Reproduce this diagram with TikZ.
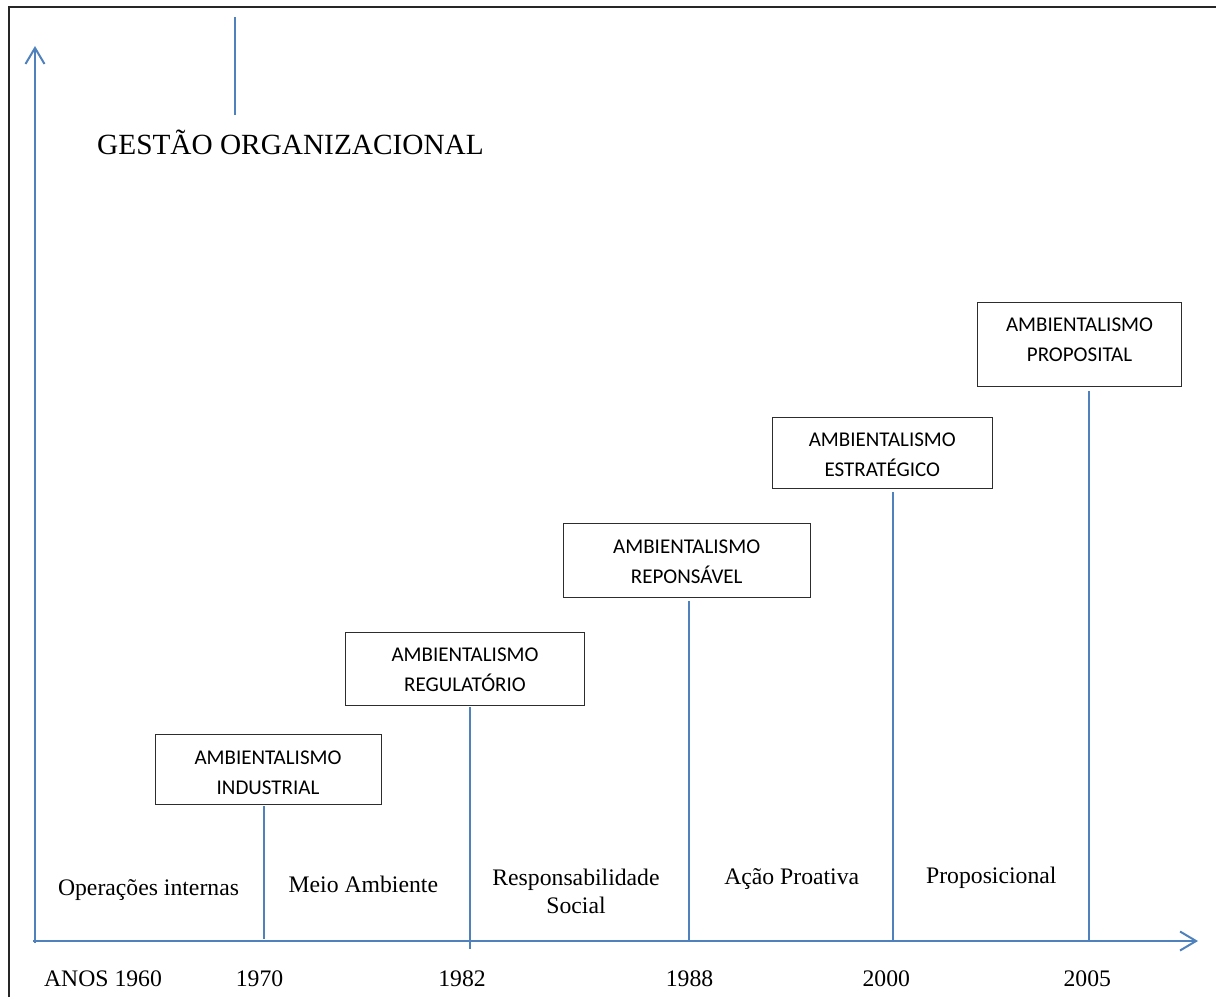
\documentclass[tikz,border=0pt]{standalone}
\usepackage{fontspec}
\setmainfont{Liberation Serif}
\newfontfamily\carlito{Carlito}
\usetikzlibrary{arrows.meta}
\definecolor{axisblue}{RGB}{79,129,189}
\definecolor{boxgray}{RGB}{45,45,45}
\begin{document}
\begin{tikzpicture}[x=1pt,y=-1pt,
  axisline/.style={draw=axisblue, line width=2pt},
  axisarrow/.style={axisline, -{Straight Barb[length=16pt,width=19pt,line width=2pt]}},
  phaseline/.style={draw=axisblue, line width=2pt},
  phasebox/.style={draw=boxgray, line width=0.9pt, inner sep=0pt},
  phasetext/.style={font=\carlito\fontsize{21}{30}\selectfont, align=center, inner sep=0pt},
  eratext/.style={font=\fontsize{23.7}{27.7}\selectfont, align=center, inner sep=0pt},
  yeartext/.style={font=\fontsize{23.7}{28}\selectfont, inner sep=0pt, anchor=base},
]
\useasboundingbox (0,0) rectangle (1216,997);

% outer frame
\draw[line width=1.5pt, black!85] (9,997) -- (9,7) -- (1216,7);

% title and its marker
\coordinate (m1) at (235,17);
\coordinate (m2) at (235,115);
\draw[axisline, line width=2.5pt] (m1) -- (m2);
\node[font=\fontsize{29.3}{35}\selectfont, anchor=base west, inner sep=0pt] (title) at (97,154) {GESTÃO ORGANIZACIONAL};

% axes
\coordinate (ybot) at (35,943);
\coordinate (ytop) at (35,46);
\coordinate (xstart) at (33,941);
\coordinate (xend) at (1198,941);
\draw[axisarrow] (ybot) -- (ytop);
\draw[axisarrow] (xstart) -- (xend);

% phase boxes
\node[phasebox, minimum width=226pt, minimum height=70pt] (b1) at (268,769) {};
\node[phasebox, minimum width=239pt, minimum height=73pt] (b2) at (464.5,668.5) {};
\node[phasebox, minimum width=247pt, minimum height=74pt] (b3) at (686.7,560.3) {};
\node[phasebox, minimum width=220pt, minimum height=71pt] (b4) at (882.3,452.8) {};
\node[phasebox, minimum width=204pt, minimum height=84pt] (b5) at (1079.5,344.5) {};

\node[phasetext] (t1) at (268,773) {AMBIENTALISMO\\INDUSTRIAL};
\node[phasetext] (t2) at (465,670) {AMBIENTALISMO\\REGULATÓRIO};
\node[phasetext] (t3) at (686.7,562) {AMBIENTALISMO\\REPONSÁVEL};
\node[phasetext] (t4) at (882.3,455) {AMBIENTALISMO\\ESTRATÉGICO};
\node[phasetext] (t5) at (1079.5,340) {AMBIENTALISMO\\PROPOSITAL};

% markers from the boxes down to the time axis
\coordinate (c1) at (264,939);
\coordinate (c2) at (470,949);
\coordinate (c3) at (689,941);
\coordinate (c4) at (893,941);
\coordinate (c5) at (1089,941);
\draw[phaseline] ([yshift=-2pt]b1.south -| c1) -- (c1);
\draw[phaseline] ([yshift=-2pt]b2.south -| c2) -- (c2);
\draw[phaseline] ([yshift=-3pt]b3.south -| c3) -- (c3);
\draw[phaseline] ([yshift=-3pt]b4.south -| c4) -- (c4);
\draw[phaseline] ([yshift=-4pt]b5.south -| c5) -- (c5);

% era names
\node[eratext, anchor=base] (e1) at (148.5,895) {Operações internas};
\node[eratext, anchor=base] (e2) at (363.3,892) {Meio Ambiente};
\node[eratext] (e3) at (576,891.5) {Responsabilidade\\Social};
\node[eratext, anchor=base] (e4) at (791.7,884) {Ação Proativa};
\node[eratext, anchor=base] (e5) at (991.3,883.3) {Proposicional};

% years
\node[yeartext] (y0) at (103,986) {ANOS 1960};
\node[yeartext] (y1) at (259.5,986) {1970};
\node[yeartext] (y2) at (462,986) {1982};
\node[yeartext] (y3) at (689.5,986) {1988};
\node[yeartext] (y4) at (886.3,986) {2000};
\node[yeartext] (y5) at (1087.3,986) {2005};
\end{tikzpicture}
\end{document}
